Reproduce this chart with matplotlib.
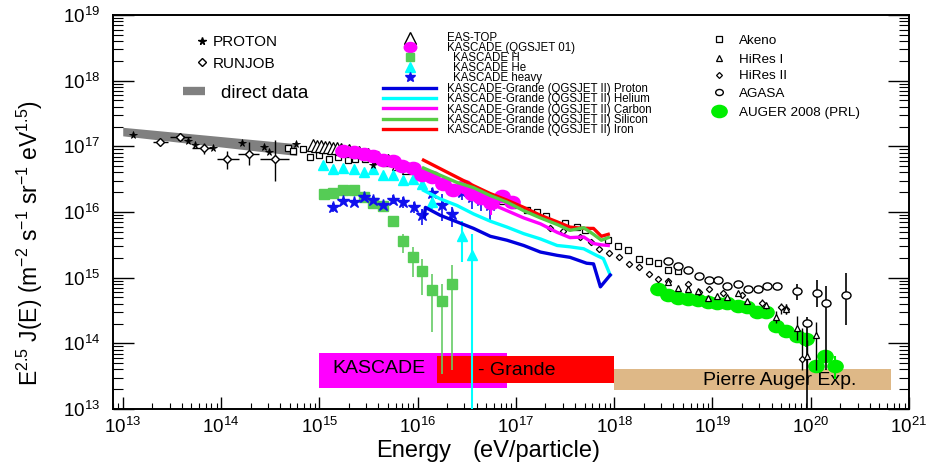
import numpy as np
import matplotlib
matplotlib.use("Agg")
import matplotlib.pyplot as plt
from matplotlib.lines import Line2D
from matplotlib.path import Path
from matplotlib.transforms import Affine2D
from matplotlib.ticker import LogLocator, FuncFormatter, NullFormatter

plt.rcParams["font.family"] = ["Liberation Sans", "DejaVu Sans"]
plt.rcParams["mathtext.fontset"] = "custom"
plt.rcParams["mathtext.rm"] = "Liberation Sans"
plt.rcParams["mathtext.it"] = "Liberation Sans:italic"
plt.rcParams["mathtext.bf"] = "Liberation Sans:bold"

# all values are log10(E / eV) and log10(E^2.5 J(E))

# direct measurements band
direct_lgE = [13.0, 14.77]
direct_lgF_lo = [17.16, 16.86]
direct_lgF_hi = [17.29, 17.04]

proton_lgE = [13.10, 13.58, 13.66, 13.74, 13.92, 14.21, 14.44, 14.49, 14.76, 15.55]
proton_lgF = [17.17, 17.14, 17.08, 17.02, 16.98, 17.05, 16.99, 16.91, 17.03, 16.72]

runjob_lgE = [13.38, 13.58, 13.83, 14.06, 14.28, 14.55]
runjob_lgF = [17.06, 17.14, 16.97, 16.81, 16.89, 16.80]
runjob_lgE_lo = [13.31, 13.48, 13.70, 13.96, 14.17, 14.40]
runjob_lgE_hi = [13.46, 13.69, 13.92, 14.18, 14.39, 14.69]
runjob_lgF_lo = [17.04, 17.12, 16.89, 16.66, 16.71, 16.47]
runjob_lgF_hi = [17.08, 17.16, 17.05, 16.93, 17.06, 17.09]

eastop_lgE = [14.94, 14.98, 15.02, 15.06, 15.10, 15.14, 15.18, 15.22, 15.30, 15.40,
              15.50, 15.60, 15.70, 15.80, 15.90, 16.00]
eastop_lgF = [17.02, 17.01, 17.00, 16.99, 16.99, 16.98, 16.97, 16.96, 16.95, 16.92,
              16.88, 16.84, 16.79, 16.73, 16.67, 16.61]

kq01_lgE = [15.24, 15.35, 15.45, 15.55, 15.65, 15.75, 15.84, 15.95, 16.05, 16.15,
            16.26, 16.36, 16.47, 16.55, 16.65, 16.75, 16.86, 16.96]
kq01_lgF = [16.93, 16.91, 16.88, 16.86, 16.79, 16.77, 16.70, 16.67, 16.57, 16.53,
            16.43, 16.34, 16.40, 16.27, 16.21, 16.13, 16.25, 16.15]
kq01_lgF_lo = [16.93, 16.91, 16.88, 16.86, 16.79, 16.77, 16.70, 16.67, 16.57, 16.53,
               16.41, 16.30, 16.33, 16.17, 16.10, 15.95, 16.17, 16.05]
kq01_lgF_hi = [16.93, 16.91, 16.88, 16.86, 16.79, 16.77, 16.70, 16.67, 16.57, 16.53,
               16.45, 16.38, 16.45, 16.36, 16.30, 16.28, 16.32, 16.24]

kH_lgE = [15.05, 15.14, 15.24, 15.35, 15.45, 15.55, 15.65, 15.75, 15.85, 15.95,
          16.05, 16.15, 16.25, 16.35]
kH_lgF = [16.28, 16.29, 16.34, 16.34, 16.23, 16.14, 16.09, 15.87, 15.56, 15.31,
          15.10, 14.81, 14.64, 14.91]
kH_lgF_lo = [16.28, 16.29, 16.34, 16.34, 16.23, 16.14, 16.09, 15.81, 15.37, 15.01,
             14.73, 14.17, 13.54, 13.59]
kH_lgF_hi = [16.28, 16.29, 16.34, 16.34, 16.23, 16.14, 16.09, 15.93, 15.67, 15.47,
             15.29, 15.05, 14.91, 15.19]

kHe_lgE = [15.04, 15.14, 15.24, 15.35, 15.45, 15.55, 15.65, 15.75, 15.85, 15.95,
           16.05, 16.15, 16.45, 16.55]
kHe_lgF = [16.71, 16.65, 16.67, 16.65, 16.61, 16.65, 16.57, 16.56, 16.48, 16.51,
           16.42, 16.15, 15.64, 15.34]
kHe_lgF_lo = [16.71, 16.65, 16.67, 16.65, 16.61, 16.65, 16.57, 16.56, 16.48, 16.51,
              16.42, 16.05, 15.24, 12.50]
kHe_lgF_hi = [16.71, 16.65, 16.67, 16.65, 16.61, 16.65, 16.57, 16.56, 16.48, 16.51,
              16.42, 16.28, 15.87, 15.67]

kHeavy_lgE = [15.14, 15.24, 15.35, 15.45, 15.55, 15.65, 15.75, 15.85, 15.96, 16.05,
              16.15, 16.25, 16.35, 16.45, 16.55, 16.65, 16.74]
kHeavy_lgF = [16.07, 16.16, 16.15, 16.23, 16.18, 16.10, 16.19, 16.15, 16.07, 15.96,
              16.29, 16.10, 15.97, 16.30, 16.23, 16.18, 16.10]
kHeavy_lgF_lo = [16.00, 16.16, 16.15, 16.23, 16.12, 16.10, 16.12, 16.06, 15.98, 15.80,
                 16.15, 15.87, 15.77, 16.18, 16.05, 16.02, 15.87]
kHeavy_lgF_hi = [16.14, 16.16, 16.15, 16.23, 16.24, 16.10, 16.26, 16.23, 16.15, 16.05,
                 16.36, 16.28, 16.07, 16.38, 16.30, 16.25, 16.23]

# KASCADE-Grande unfolded spectra (QGSJET II)
kg_lgE = [16.06, 16.23, 16.40, 16.57, 16.74, 16.91, 17.08, 17.25, 17.42, 17.55, 17.69,
          17.79, 17.87, 17.94]
kg_iron = [16.79, 16.66, 16.53, 16.40, 16.28, 16.18, 16.07, 15.95, 15.85, 15.77, 15.75,
           15.75, 15.63, 15.66]
kg_silicon = [16.67, 16.56, 16.45, 16.37, 16.25, 16.15, 16.02, 15.91, 15.81, 15.72, 15.76,
              15.66, 15.57, 15.61]
kg_carbon = [16.58, 16.45, 16.34, 16.23, 16.13, 16.02, 15.91, 15.82, 15.69, 15.61, 15.62,
             15.52, 15.50, 15.49]
kg_helium_lgE = [16.06, 16.23, 16.40, 16.57, 16.74, 16.91, 17.08, 17.25, 17.42, 17.55,
                 17.69, 17.82, 17.89, 17.96]
kg_helium = [16.33, 16.20, 16.10, 15.97, 15.86, 15.77, 15.67, 15.59, 15.49, 15.47, 15.44,
             15.34, 15.29, 15.04]
kg_proton_lgE = [16.07, 16.08, 16.23, 16.40, 16.57, 16.74, 16.91, 17.08, 17.25, 17.42,
                 17.55, 17.72, 17.79, 17.86, 17.96]
kg_proton = [15.93, 16.07, 15.95, 15.85, 15.75, 15.63, 15.57, 15.49, 15.39, 15.34, 15.31,
             15.22, 15.21, 14.86, 15.04]

akeno_lgE = [14.68, 14.73, 14.83, 14.91, 15.00, 15.10, 15.19, 15.29, 15.36, 15.46,
             16.46, 16.56, 16.66, 16.76, 16.86, 16.97, 17.11, 17.21, 17.31, 17.50,
             17.62, 17.70, 17.94, 18.04, 18.14, 18.25, 18.35, 18.45, 18.55, 18.65]
akeno_lgF = [16.98, 16.93, 16.96, 16.83, 16.87, 16.80, 16.83, 16.79, 16.80, 16.81,
             16.33, 16.28, 16.24, 16.20, 16.17, 16.11, 16.03, 16.00, 15.94, 15.84,
             15.77, 15.72, 15.57, 15.48, 15.42, 15.29, 15.26, 15.22, 15.12, 15.10]

hires1_lgE = [18.55, 18.65, 18.75, 18.85, 18.95, 19.05, 19.15, 19.26, 19.35, 19.55,
              19.65, 19.75, 19.86, 19.96, 20.05]
hires1_lgF = [14.93, 14.85, 14.82, 14.79, 14.69, 14.72, 14.70, 14.76, 14.65, 14.58,
              14.40, 14.53, 14.24, 13.81, 14.12]
hires1_lgF_lo = [14.93, 14.85, 14.82, 14.79, 14.69, 14.72, 14.70, 14.76, 14.62, 14.53,
                 14.31, 14.45, 14.05, 13.40, 13.59]
hires1_lgF_hi = [14.93, 14.85, 14.82, 14.79, 14.69, 14.72, 14.70, 14.76, 14.68, 14.62,
                 14.50, 14.60, 14.42, 14.05, 14.33]

hires2_lgE = [17.35, 17.48, 17.65, 17.76, 17.85, 17.95, 18.05, 18.15, 18.25, 18.35,
              18.45, 18.55, 18.75, 18.86, 18.96, 19.11, 19.30, 19.50, 19.70, 19.75, 19.91]
hires2_lgF = [15.76, 15.71, 15.62, 15.55, 15.44, 15.37, 15.31, 15.21, 15.16, 15.06,
              14.98, 14.95, 14.90, 14.78, 14.82, 14.76, 14.73, 14.62, 14.55, 14.53, 13.76]
hires2_lgF_lo = [15.76, 15.71, 15.62, 15.55, 15.44, 15.37, 15.31, 15.21, 15.16, 15.06,
                 14.98, 14.95, 14.90, 14.75, 14.79, 14.72, 14.69, 14.56, 14.45, 14.44, 13.59]
hires2_lgF_hi = [15.76, 15.71, 15.62, 15.55, 15.44, 15.37, 15.31, 15.21, 15.16, 15.06,
                 14.98, 14.95, 14.90, 14.81, 14.85, 14.80, 14.78, 14.68, 14.62, 14.60, 14.23]

agasa_lgE = [18.55, 18.65, 18.75, 18.86, 18.96, 19.06, 19.15, 19.26, 19.36, 19.46,
             19.56, 19.66, 19.86, 19.96, 20.06, 20.16, 20.36]
agasa_lgF = [15.25, 15.18, 15.11, 15.03, 14.96, 14.96, 14.87, 14.90, 14.82, 14.83,
             14.87, 14.87, 14.80, 14.31, 14.77, 14.61, 14.73]
agasa_lgF_lo = [15.25, 15.18, 15.11, 15.03, 14.96, 14.96, 14.87, 14.90, 14.82, 14.83,
                14.83, 14.83, 14.66, 12.50, 14.55, 13.59, 14.28]
agasa_lgF_hi = [15.25, 15.18, 15.11, 15.03, 14.96, 14.96, 14.87, 14.90, 14.82, 14.83,
                14.91, 14.91, 14.91, 14.40, 14.96, 14.88, 15.07]

auger_lgE = [18.45, 18.55, 18.65, 18.75, 18.85, 18.95, 19.05, 19.15, 19.26, 19.35,
             19.45, 19.55, 19.65, 19.75, 19.86, 19.95, 20.05, 20.15, 20.25]
auger_lgF = [14.82, 14.73, 14.69, 14.67, 14.66, 14.63, 14.62, 14.62, 14.57, 14.55,
             14.48, 14.48, 14.26, 14.19, 14.11, 14.06, 13.65, 13.81, 13.66]
auger_lgF_lo = [14.82, 14.73, 14.69, 14.67, 14.66, 14.63, 14.62, 14.62, 14.57, 14.55,
                14.45, 14.45, 14.20, 14.13, 14.02, 13.95, 13.65, 13.70, 13.45]
auger_lgF_hi = [14.82, 14.73, 14.69, 14.67, 14.66, 14.63, 14.62, 14.62, 14.57, 14.55,
                14.50, 14.50, 14.30, 14.24, 14.17, 14.15, 13.65, 13.88, 13.80]

# experiment energy ranges
box_names = ["KASCADE", "- Grande", "Pierre Auger Exp."]
box_lgE_lo = [15.0, 16.20, 18.0]
box_lgE_hi = [16.91, 18.0, 20.82]
box_lgF_lo = [13.32, 13.40, 13.29]
box_lgF_hi = [13.85, 13.80, 13.61]
box_colors = ["#ff00ff", "#ff0000", "#deb887"]


def P(a):
    return 10.0 ** np.asarray(a, dtype=float)


def yerr(lg, lo, hi):
    f = P(lg)
    return [f - P(lo), P(hi) - f]


ellipse = Path.unit_circle().transformed(Affine2D().scale(1.0, 0.8))

W, H = 931, 463
fig = plt.figure(figsize=(W / 100, H / 100), dpi=100)
ax = fig.add_axes([113 / W, 1 - 409 / H, (909 - 113) / W, (409 - 15) / H])
ax.set_xscale("log")
ax.set_yscale("log")
ax.set_xlim(10 ** 12.901, 1e21)
ax.set_ylim(1e13, 1e19)

# energy range boxes
for lo, hi, flo, fhi, c in zip(box_lgE_lo, box_lgE_hi, box_lgF_lo, box_lgF_hi, box_colors):
    ax.fill_between(P([lo, hi]), P(flo), P(fhi), color=c, lw=0, zorder=1)
ax.text(10 ** 15.13, 10 ** 13.61, box_names[0], fontsize=14, va="center", zorder=1.5)
ax.text(10 ** 16.61, 10 ** 13.59, box_names[1], fontsize=14, va="center", zorder=1.5)
ax.text(10 ** 18.90, 10 ** 13.44, box_names[2], fontsize=14, va="center", zorder=1.5)

ax.fill_between(P(direct_lgE), P(direct_lgF_lo), P(direct_lgF_hi), color="#808080",
                lw=0, zorder=2)

ax.plot(P(proton_lgE), P(proton_lgF), ls="none", marker="*", ms=5.5, color="k",
        mew=0.6, zorder=4)
ax.errorbar(P(runjob_lgE), P(runjob_lgF), yerr=yerr(runjob_lgF, runjob_lgF_lo, runjob_lgF_hi),
            xerr=[P(runjob_lgE) - P(runjob_lgE_lo), P(runjob_lgE_hi) - P(runjob_lgE)],
            fmt="D", ms=4, mfc="white", mec="k", mew=1, ecolor="k", elinewidth=1,
            capsize=0, zorder=4)

ax.plot(P(akeno_lgE), P(akeno_lgF), ls="none", marker="s", ms=5, mfc="white",
        mec="k", mew=0.9, zorder=3)
ax.plot(P(eastop_lgE), P(eastop_lgF), ls="none", marker="^", ms=8, mfc="white",
        mec="k", mew=0.9, zorder=3)

ax.errorbar(P(kH_lgE), P(kH_lgF), yerr=yerr(kH_lgF, kH_lgF_lo, kH_lgF_hi), fmt="s",
            ms=7, color="#55cc55", ecolor="#66cc66", elinewidth=1.2, capsize=0, zorder=3)
ax.errorbar(P(kHe_lgE), P(kHe_lgF), yerr=yerr(kHe_lgF, kHe_lgF_lo, kHe_lgF_hi), fmt="^",
            ms=7.5, color="#00ffff", ecolor="#00ffff", elinewidth=1.5, capsize=0, zorder=3)
ax.errorbar(P(kHeavy_lgE), P(kHeavy_lgF), yerr=yerr(kHeavy_lgF, kHeavy_lgF_lo, kHeavy_lgF_hi),
            fmt="*", ms=9, color="#1010ee", ecolor="#1010ee", elinewidth=1.2, capsize=0,
            zorder=3)

ax.plot(P(kg_lgE), P(kg_iron), color="#ff0000", lw=2.4, zorder=5)
ax.plot(P(kg_lgE), P(kg_silicon), color="#55cc44", lw=2.4, zorder=5)
ax.plot(P(kg_lgE), P(kg_carbon), color="#ff00ff", lw=2.4, zorder=5)
ax.plot(P(kg_helium_lgE), P(kg_helium), color="#00ffff", lw=2.4, zorder=5)
ax.plot(P(kg_proton_lgE), P(kg_proton), color="#0000dd", lw=2.4, zorder=5)

ax.errorbar(P(kq01_lgE), P(kq01_lgF), yerr=yerr(kq01_lgF, kq01_lgF_lo, kq01_lgF_hi),
            fmt="none", ecolor="#ff00ff", elinewidth=1.5, capsize=0, zorder=4)
ax.plot(P(kq01_lgE), P(kq01_lgF), ls="none", marker=ellipse, ms=11, color="#ff00ff",
        zorder=4)

ax.errorbar(P(hires2_lgE), P(hires2_lgF), yerr=yerr(hires2_lgF, hires2_lgF_lo, hires2_lgF_hi),
            fmt="D", ms=3.2, mfc="white", mec="k", mew=0.9, ecolor="k", elinewidth=1,
            capsize=0, zorder=4)
ax.errorbar(P(hires1_lgE), P(hires1_lgF), yerr=yerr(hires1_lgF, hires1_lgF_lo, hires1_lgF_hi),
            fmt="^", ms=5, mfc="white", mec="k", mew=0.9, ecolor="k", elinewidth=1,
            capsize=0, zorder=4)
ax.errorbar(P(agasa_lgE), P(agasa_lgF), yerr=yerr(agasa_lgF, agasa_lgF_lo, agasa_lgF_hi),
            fmt="none", ecolor="k", elinewidth=1.2, capsize=0, zorder=4)
ax.plot(P(agasa_lgE), P(agasa_lgF), ls="none", marker=ellipse, ms=6.5, mfc="white",
        mec="k", mew=1, zorder=4)
ax.errorbar(P(auger_lgE), P(auger_lgF), yerr=yerr(auger_lgF, auger_lgF_lo, auger_lgF_hi),
            fmt="none", ecolor="#00ee00", elinewidth=1.5, capsize=0, zorder=3)
ax.plot(P(auger_lgE), P(auger_lgF), ls="none", marker=ellipse, ms=11, color="#00ee00",
        zorder=3)

# axes styling
for s in ax.spines.values():
    s.set_linewidth(1.4)
ax.xaxis.set_major_locator(LogLocator(base=10, numticks=20))
ax.yaxis.set_major_locator(LogLocator(base=10, numticks=20))
ax.xaxis.set_minor_locator(LogLocator(base=10, subs=np.arange(2, 10), numticks=20))
ax.yaxis.set_minor_locator(LogLocator(base=10, subs=np.arange(2, 10), numticks=20))
fmt = FuncFormatter(lambda v, pos: r"$\mathregular{10^{%d}}$" % round(np.log10(v)))
ax.xaxis.set_major_formatter(fmt)
ax.yaxis.set_major_formatter(fmt)
ax.xaxis.set_minor_formatter(NullFormatter())
ax.yaxis.set_minor_formatter(NullFormatter())
ax.tick_params(which="both", direction="in", top=False, right=True, labelsize=13.5)
ax.tick_params(axis="y", which="major", length=15, width=1, pad=9)
ax.tick_params(axis="y", which="minor", length=7.5, width=0.8)
ax.tick_params(axis="x", which="major", length=9, width=1, pad=6)
ax.tick_params(axis="x", which="minor", length=4.5, width=0.8)

fig.text(376 / W, 1 - 457 / H, "Energy", fontsize=17, va="baseline")
fig.text(472 / W, 1 - 457 / H, "(eV/particle)", fontsize=17, va="baseline")
fig.text(30 / W, 1 - 243 / H,
         r"$\mathregular{E^{2.5}\ J(E)\ (m^{-2}\ s^{-1}\ sr^{-1}\ eV^{1.5})}$",
         fontsize=16.5, rotation=90, ha="center", va="center")


# hand-placed legends (positions in pixels from top-left)
def key(px, py, **kw):
    fig.add_artist(Line2D([px / W], [1 - py / H], **kw))


def keyline(px0, px1, py, **kw):
    fig.add_artist(Line2D([px0 / W, px1 / W], [1 - py / H, 1 - py / H], **kw))


def label(px, py, s, size):
    # baseline sits about 0.36 em below the visual centre of the row
    fig.text(px / W, 1 - (py + 0.36 * size * 100 / 72) / H, s, fontsize=size,
             va="baseline")


key(201.7, 40.7, marker="*", ms=5.5, color="k")
label(213, 40.7, "PROTON", 11)
key(201.7, 62, marker="D", ms=4, mfc="white", mec="k", mew=1)
label(213, 62, "RUNJOB", 11)
keyline(182.7, 205, 91, color="#808080", lw=6, solid_capstyle="butt")
label(221, 91, "direct data", 13.5)

key(409.5, 37.5, marker="^", ms=8, mfc="white", mec="k", mew=1)
label(447, 36.5, "EAS-TOP", 8.3)
key(409.5, 46.5, marker=ellipse, ms=9, color="#ff00ff")
label(447, 46.5, "KASCADE (QGSJET 01)", 8.3)
key(409.5, 57, marker="s", ms=6, color="#55cc55")
label(453, 56.7, "KASCADE H", 8.3)
key(409.5, 67, marker="^", ms=7, color="#00ffff")
label(453, 67, "KASCADE He", 8.3)
key(409.5, 77, marker="*", ms=7.5, color="#1010ee")
label(453, 77.3, "KASCADE heavy", 8.3)
grande = [("Proton", "#0000dd"), ("Helium", "#00ffff"), ("Carbon", "#ff00ff"),
          ("Silicon", "#55cc44"), ("Iron", "#ff0000")]
for i, (name, c) in enumerate(grande):
    py = 87.7 + i * 10.35
    keyline(383.3, 435.5, py, color=c, lw=2.4)
    label(447, py, "KASCADE-Grande (QGSJET II) " + name, 8.3)

key(719.3, 39.3, marker="s", ms=4.5, mfc="white", mec="k", mew=0.9)
label(739.3, 39.3, "Akeno", 9.7)
key(719.3, 57.7, marker="^", ms=4.5, mfc="white", mec="k", mew=0.9)
label(739.3, 57.7, "HiRes I", 9.7)
key(719.3, 74.5, marker="D", ms=3, mfc="white", mec="k", mew=0.9)
label(739.3, 74.5, "HiRes II", 9.7)
key(719.3, 92.3, marker=ellipse, ms=5.5, mfc="white", mec="k", mew=1)
label(739.3, 92.3, "AGASA", 9.7)
key(719.3, 110.7, marker=ellipse, ms=11, color="#00ee00")
label(739.3, 110.7, "AUGER 2008 (PRL)", 9.7)

fig.savefig("out.png", dpi=100)
